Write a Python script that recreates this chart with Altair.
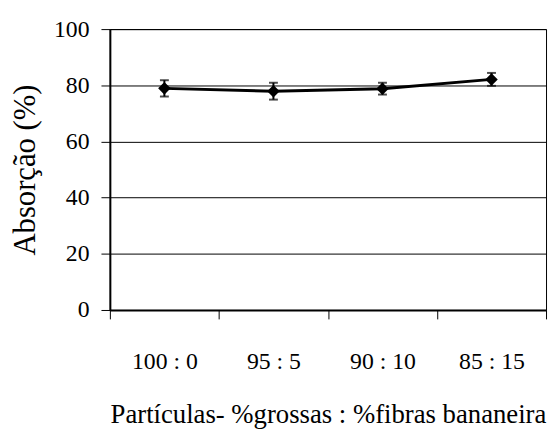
import altair as alt
import pandas as pd

categories = ["100 : 0", "95 : 5", "90 : 10", "85 : 15"]
absorcao = [78.9, 77.9, 78.8, 82.1]
erro = [2.9, 3.0, 2.1, 2.3]

df = pd.DataFrame({"cat": categories, "val": absorcao, "err": erro})
df["lo"] = df["val"] - df["err"]
df["hi"] = df["val"] + df["err"]

FONT = "Liberation Serif"

x_enc = alt.X(
    "cat:N",
    sort=categories,
    scale=alt.Scale(type="band", paddingInner=0, paddingOuter=0),
    title="Partículas- %grossas : %fibras bananeira",
)

y_scale = alt.Scale(domain=[0, 100])

base = alt.Chart(df).encode(x=x_enc)

line = base.mark_line(color="black", strokeWidth=3).encode(
    y=alt.Y("val:Q", scale=y_scale, title="Absorção (%)",
            axis=alt.Axis(values=[0, 20, 40, 60, 80, 100]))
)
bars = base.mark_rule(color="black", strokeWidth=2).encode(
    y=alt.Y("lo:Q", scale=y_scale, title="Absorção (%)"), y2="hi:Q"
)
cap_lo = base.mark_tick(color="black", size=9, thickness=2).encode(
    y=alt.Y("lo:Q", scale=y_scale, title="Absorção (%)")
)
cap_hi = base.mark_tick(color="black", size=9, thickness=2).encode(
    y=alt.Y("hi:Q", scale=y_scale, title="Absorção (%)")
)
pts = base.mark_point(shape="diamond", filled=True, color="black", size=160, opacity=1).encode(
    y=alt.Y("val:Q", scale=y_scale, title="Absorção (%)")
)

chart = (
    alt.layer(line, bars, cap_lo, cap_hi, pts)
    .properties(
        width=441,
        height=284,
        autosize=alt.AutoSizeParams(type="none"),
        padding={"left": 103, "top": 19, "right": 2, "bottom": 118},
        background="white",
    )
    .configure_view(stroke="black", strokeWidth=1)
    .configure_axis(
        labelFont=FONT,
        labelFontSize=24,
        labelColor="black",
        titleFont=FONT,
        titleFontWeight="normal",
        titleColor="black",
        tickColor="black",
        tickWidth=1,
        tickSize=9,
        domainColor="black",
        domainWidth=2,
    )
    .configure_axisX(
        labelAngle=0,
        labelBaseline="alphabetic",
        labelPadding=50,
        tickBand="extent",
        grid=False,
        titleFontSize=27,
        titleBaseline="alphabetic",
        titleAlign="center",
        titleX=220.5,
        titleY=114,
    )
    .configure_axisY(
        labelPadding=12,
        grid=True,
        gridColor="black",
        gridWidth=1,
        titleFontSize=31,
        titleAngle=270,
        titleAlign="center",
        titleBaseline="middle",
        titleX=-85,
        titleY=142,
    )
)

chart.save("out.html", embed_options={"renderer": "svg", "actions": False})
